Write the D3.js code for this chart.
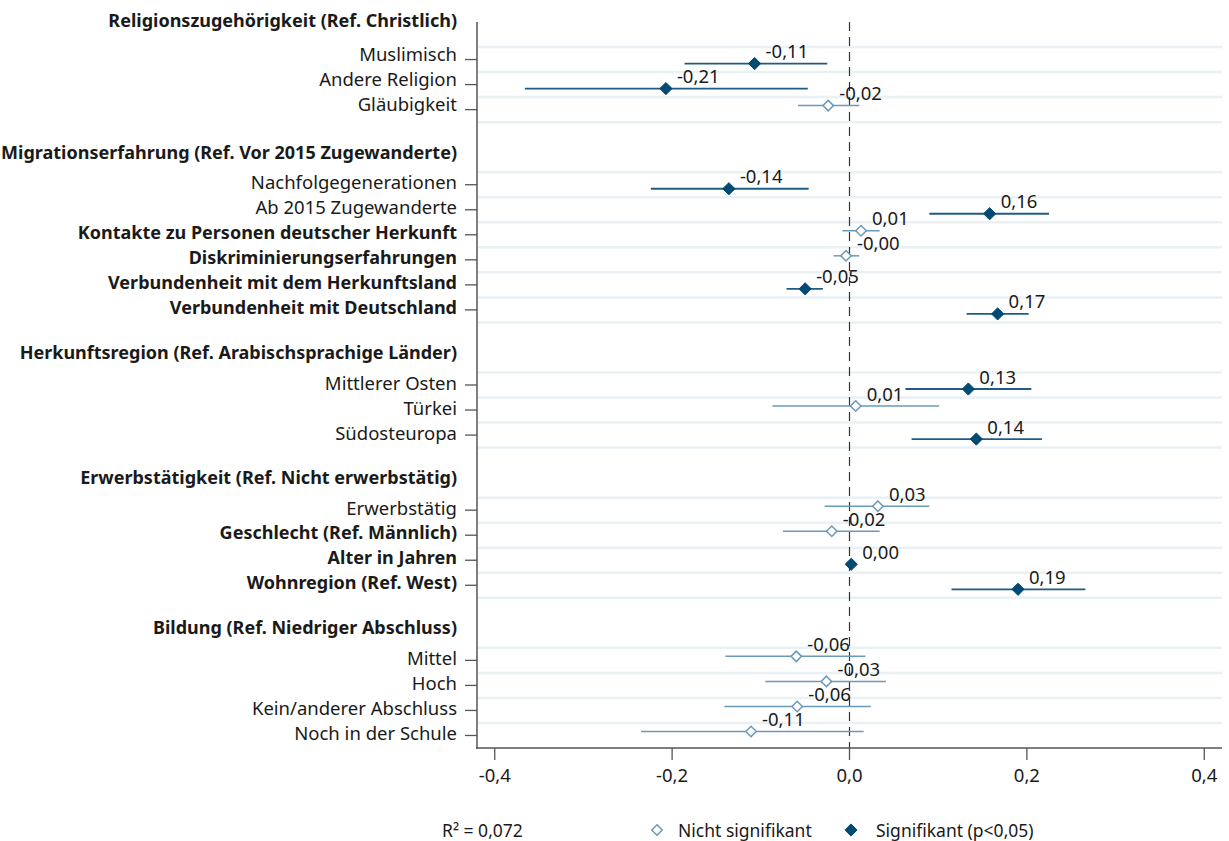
<!DOCTYPE html>
<html><head><meta charset="utf-8">
<script src="https://cdn.jsdelivr.net/npm/d3@7"></script>
<style>
html,body{margin:0;padding:0;background:#fff;}
svg text{font-family:"Noto Sans",sans-serif;fill:#1a1a1a;}
</style></head>
<body>
<svg id="chart" width="1229" height="841"></svg>
<script>
// ---- data ----
// row kinds: "h" header, "i" item, "b" blank
const rowLabels = [
  "Religionszugehörigkeit (Ref. Christlich)",
  "Muslimisch", "Andere Religion", "Gläubigkeit", "",
  "Migrationserfahrung (Ref. Vor 2015 Zugewanderte)",
  "Nachfolgegenerationen", "Ab 2015 Zugewanderte",
  "Kontakte zu Personen deutscher Herkunft", "Diskriminierungserfahrungen",
  "Verbundenheit mit dem Herkunftsland", "Verbundenheit mit Deutschland", "",
  "Herkunftsregion (Ref. Arabischsprachige Länder)",
  "Mittlerer Osten", "Türkei", "Südosteuropa", "",
  "Erwerbstätigkeit (Ref. Nicht erwerbstätig)",
  "Erwerbstätig", "Geschlecht (Ref. Männlich)", "Alter in Jahren", "Wohnregion (Ref. West)", "",
  "Bildung (Ref. Niedriger Abschluss)",
  "Mittel", "Hoch", "Kein/anderer Abschluss", "Noch in der Schule"
];
const rowKinds = ["h","i","i","i","b","h","i","i","i","i","i","i","b","h","i","i","i","b","h","i","i","i","i","b","h","i","i","i","i"];
const rowBold  = [1,0,0,0,0,1,0,0,1,1,1,1,0,1,0,0,0,0,1,0,1,1,1,0,1,0,0,0,0];

// coefficients for item rows (in order)
const coef    = [-0.107,-0.207,-0.024,-0.136, 0.158, 0.013,-0.004,-0.050, 0.167, 0.134, 0.007, 0.143, 0.032,-0.020, 0.002, 0.190,-0.060,-0.026,-0.059,-0.111];
const ciLow   = [-0.186,-0.366,-0.058,-0.224, 0.090,-0.008,-0.018,-0.071, 0.132, 0.063,-0.087, 0.070,-0.028,-0.075, 0.000, 0.115,-0.140,-0.095,-0.141,-0.235];
const ciHigh  = [-0.025,-0.047, 0.011,-0.046, 0.225, 0.034, 0.011,-0.030, 0.202, 0.205, 0.101, 0.217, 0.090, 0.034, 0.004, 0.266, 0.018, 0.041, 0.024, 0.016];
const signif  = [1,1,0,1,1,0,0,1,1,1,0,1,0,0,1,1,0,0,0,0];

const xTicks = [-0.4,-0.2,0,0.2,0.4];
const r2Label = "R² = 0,072";
const legendLabels = ["Nicht signifikant","Signifikant (p<0,05)"];

// ---- styles ----
const colSig = "#004a74", colSigCI = "#1f5c84", colNon = "#6b99ba";
const gridCol = "#e9f1f4";
const fs = 18.5, fsBold = 18, fsLeg = 17.5;

const svg = d3.select("#chart");
const x = d3.scaleLinear().domain([-0.42,0.42]).range([477,1222]);
const y = d3.scaleLinear().domain([-1.5,27.5]).range([22,748]);
const slot = i => i - 1;

const fmt = v => (v < 0 ? "-" : "") + Math.abs(v).toFixed(2).replace(".", ",");
const tickFmt = v => (v < 0 ? "-" : "") + Math.abs(v).toFixed(1).replace(".", ",");

// items
const items = [];
let k = 0;
rowLabels.forEach((lab,i) => {
  if (rowKinds[i] === "i") {
    items.push({label:lab, s:slot(i), b:coef[k], lo:ciLow[k], hi:ciHigh[k], sig:signif[k]});
    k++;
  }
});

// gridlines
const gridSlots = [];
rowLabels.forEach((lab,i) => {
  if (i < rowLabels.length-1 && rowKinds[i+1] !== "h") gridSlots.push(slot(i)+0.5);
});
svg.append("g").selectAll("line").data(gridSlots).join("line")
  .attr("x1",478).attr("x2",1222)
  .attr("y1",d=>y(d)).attr("y2",d=>y(d))
  .attr("stroke",gridCol).attr("stroke-width",2.5);

// zero line
svg.append("line").attr("x1",x(0)).attr("x2",x(0)).attr("y1",y(-1.5)).attr("y2",y(27.5))
  .attr("stroke","#333").attr("stroke-width",1.2).attr("stroke-dasharray","9,6");

// y axis line
svg.append("line").attr("x1",477).attr("x2",477).attr("y1",y(-1.5)).attr("y2",y(27.5)+0.5)
  .attr("stroke","#555").attr("stroke-width",1.5);
// y ticks
svg.append("g").selectAll("line").data(items).join("line")
  .attr("x1",465).attr("x2",477).attr("y1",d=>y(d.s)).attr("y2",d=>y(d.s))
  .attr("stroke","#555").attr("stroke-width",1.3);

// row labels
const labelY = d => {
  if (rowKinds[d.i] === "h") return d.i === 0 ? y(slot(d.i)) - 15 : y(slot(d.i)) - 8;
  return y(slot(d.i)) - (d.i < 4 ? 6 : 3);
};
svg.append("g").selectAll("text").data(rowLabels.map((l,i)=>({l,i})).filter(d=>rowKinds[d.i]!=="b")).join("text")
  .attr("x",457)
  .attr("y",labelY)
  .attr("text-anchor","end").attr("dominant-baseline","central")
  .attr("font-size",d=>rowBold[d.i]?fsBold:fs).attr("font-weight",d=>rowBold[d.i]?"bold":"normal")
  .text(d=>d.l);

// x axis
const xAxis = svg.append("g").attr("transform",`translate(0,${y(27.5)})`);
xAxis.append("line").attr("x1",476).attr("x2",1222).attr("stroke","#555").attr("stroke-width",1.5);
xAxis.selectAll("line.t").data(xTicks).join("line").attr("class","t")
  .attr("x1",d=>x(d)).attr("x2",d=>x(d)).attr("y1",0).attr("y2",12)
  .attr("stroke","#555").attr("stroke-width",1.3);
xAxis.selectAll("text").data(xTicks).join("text")
  .attr("x",d=>x(d)).attr("y",26).attr("text-anchor","middle").attr("dominant-baseline","central")
  .attr("font-size",fs).text(tickFmt);

// CI lines and markers
const off = d => d.sig ? 0.16 : -0.16;
const pts = svg.append("g");
pts.selectAll("line").data(items).join("line")
  .attr("x1",d=>x(d.lo)).attr("x2",d=>x(d.hi))
  .attr("y1",d=>y(d.s+off(d))).attr("y2",d=>y(d.s+off(d)))
  .attr("stroke",d=>d.sig?colSigCI:colNon).attr("stroke-width",d=>d.sig?1.8:1.5);
const diamond = d3.symbol().type(d3.symbolDiamond2);
pts.selectAll("path").data(items).join("path")
  .attr("transform",d=>`translate(${x(d.b)},${y(d.s+off(d))})`)
  .attr("d",d=>d.sig ? diamond.size(95)() : diamond.size(70)())
  .attr("fill",d=>d.sig?colSig:"#fff")
  .attr("stroke",d=>d.sig?colSig:colNon).attr("stroke-width",d=>d.sig?1:1.5);
pts.selectAll("text").data(items).join("text")
  .attr("x",d=>x(d.b)+11).attr("y",d=>y(d.s+off(d))-13)
  .attr("dominant-baseline","central").attr("font-size",fs)
  .text(d=>fmt(d.b));

// legend
const ly = 830;
svg.append("text").attr("x",442).attr("y",ly).attr("dominant-baseline","central").attr("font-size",fsLeg).text(r2Label);
const lg = svg.append("g");
lg.append("path").attr("transform",`translate(657,${ly})`).attr("d",diamond.size(70)())
  .attr("fill","#fff").attr("stroke",colNon).attr("stroke-width",1.5);
lg.append("text").attr("x",678).attr("y",ly).attr("dominant-baseline","central").attr("font-size",fsLeg).text(legendLabels[0]);
lg.append("path").attr("transform",`translate(851,${ly})`).attr("d",diamond.size(95)())
  .attr("fill",colSig).attr("stroke",colSig);
lg.append("text").attr("x",876).attr("y",ly).attr("dominant-baseline","central").attr("font-size",fsLeg).text(legendLabels[1]);
</script>
</body></html>
